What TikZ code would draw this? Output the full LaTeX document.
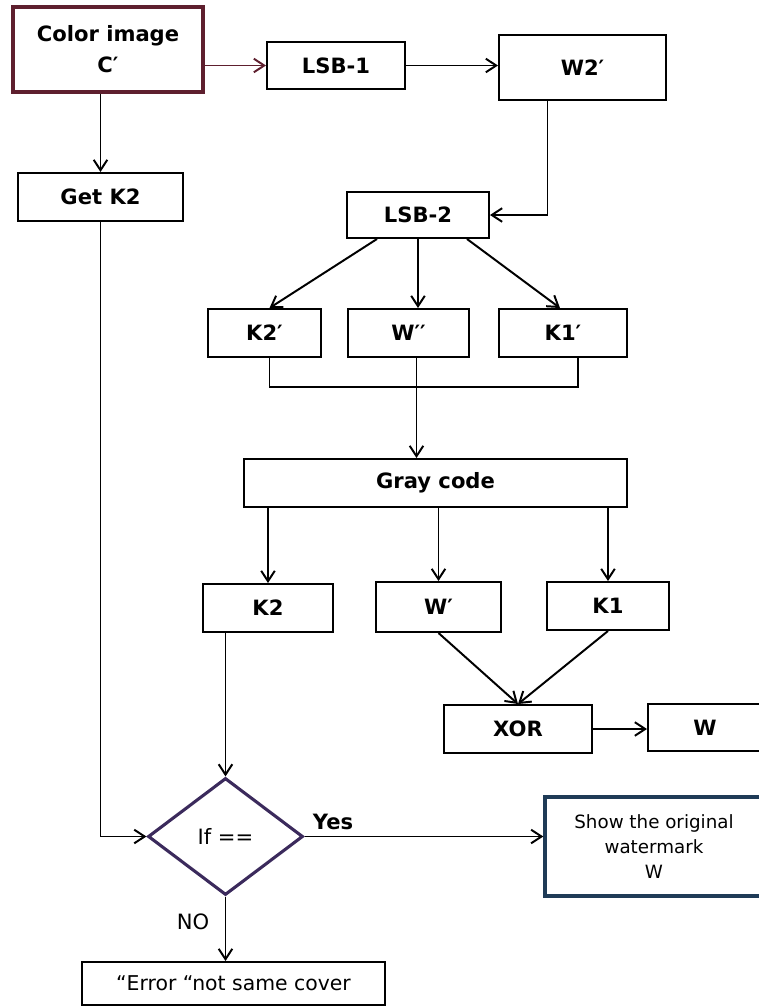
\documentclass[tikz,border=0pt]{standalone}
\usepackage{fontspec}
\setmainfont{DejaVu Sans}
\usetikzlibrary{arrows.meta,shapes.geometric,calc}
\definecolor{frameRed}{HTML}{5E1F2E}
\definecolor{frameBlue}{HTML}{1F3B57}
\definecolor{diaPurple}{HTML}{3B2A5C}

\begin{document}
\begin{tikzpicture}[x=0.025cm, y=-0.025cm, line width=1.4pt,
		every node/.style={font=\fontsize{15}{18}\selectfont\bfseries},
		b/.style 2 args={draw, inner sep=0pt, minimum width=#1*0.025cm, minimum height=#2*0.025cm, align=center},
		a/.style={-{Straight Barb[length=2.6mm,width=3.4mm]}}]
	\useasboundingbox (0,0) rectangle (758,1008);
	% top row
	\node[b={190}{85}, draw=frameRed, line width=2.4pt] (img) at (108,49.5) {Color image\\[4pt]C′};
	\node[b={138}{47}] (lsb1) at (336,65.5) {LSB-1};
	\node[b={167}{65}] (w2) at (582.5,67.5) {W2′};
	\node[b={165}{48}] (getk2) at (100.5,197) {Get K2};
	\node[b={142}{46}] (lsb2) at (418,215) {LSB-2};
	% split keys
	\node[b={113}{48}] (k2p) at (264.5,333) {K2′};
	\node[b={121}{48}] (wpp) at (408.5,333) {W′′};
	\node[b={128}{48}] (k1p) at (563,333) {K1′};
	\node[b={383}{48}] (gray) at (435.5,483) {Gray code};
	\node[b={130}{48}] (k2) at (268,608) {K2};
	\node[b={125}{50}] (wp) at (438.5,607) {W′};
	\node[b={122}{48}] (k1) at (608,606) {K1};
	\node[b={148}{48}] (xor) at (518,729) {XOR};
	\node[b={114}{47}] (w) at (705,727.5) {W};
	% check
	\node[draw=diaPurple, line width=2.2pt, shape=diamond, aspect=1.32, inner sep=0pt,
		minimum width=155*0.025cm, minimum height=117*0.025cm,
		font=\fontsize{15}{17}\selectfont] (dia) at (225.5,836.5) {If ==};
	\node[b={218}{99}, draw=frameBlue, line width=2.4pt, font=\fontsize{13}{17.5}\selectfont] (show) at (654,846.5)
		{Show the original\\watermark\\W};
	\node[b={303}{43}, font=\fontsize{14.5}{16}\selectfont] (err) at (233.5,983.5) {“Error “not same cover};
	\node (yes) at (333,822) {Yes};
	\node[font=\fontsize{15}{17}\selectfont] (no) at (193,922) {NO};
	% connectors
	\draw[a, frameRed] (img.east |- lsb1) -- (lsb1.west);
	\draw[a] (lsb1.east) -- (w2.west |- lsb1.east);
	\draw[a] (getk2.north |- img.south) -- (getk2.north);
	\draw[a] ($(w2.south)+(-35,0)$) |- (lsb2.east);
	\draw[a] ($(lsb2.south)+(-41,0)$) -- ($(k2p.north)+(5,0)$);
	\draw[a] (lsb2.south) -- (lsb2.south |- wpp.north);
	\draw[a] ($(lsb2.south)+(49,0)$) -- ($(k1p.north)+(-3,0)$);
	\coordinate (jn) at ($(wpp.south)+(8,29)$);
	\draw ($(k2p.south)+(5,0)$) |- (jn) -| ($(k1p.south)+(15,0)$);
	\draw (wpp.south -| jn) -- (jn);
	\draw[a] (jn) -- (jn |- gray.north);
	\foreach \n in {k2,wp,k1} \draw[a] (\n.north |- gray.south) -- (\n.north);
	\draw[a] (wp.south) -- (xor.north);
	\draw[a] (k1.south) -- (xor.north);
	\draw[a] (xor.east) -- (w.west |- xor.east);
	\draw[a] (dia.north |- k2.south) -- (dia.north);
	\draw[a] (getk2.south) |- (dia.west);
	\draw[a] (dia.east) -- (dia.east -| show.west);
	\draw[a] (dia.south) -- (dia.south |- err.north);
\end{tikzpicture}
\end{document}
